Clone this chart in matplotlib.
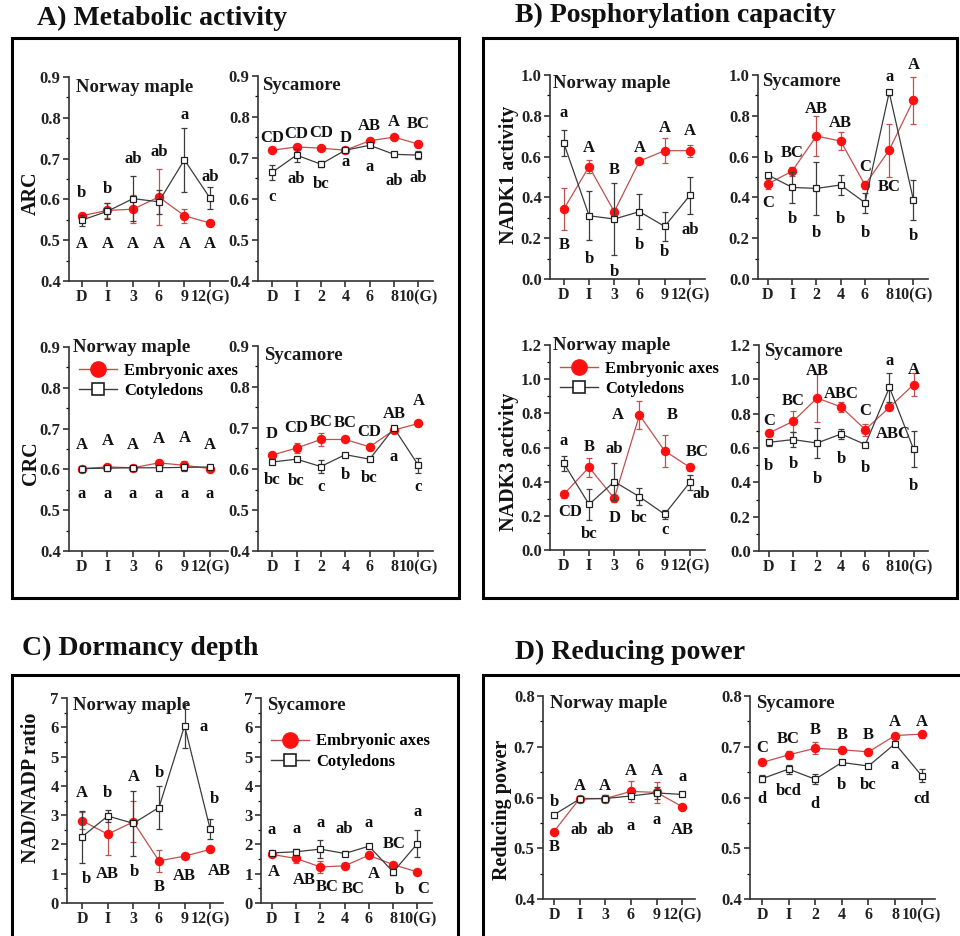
import matplotlib
matplotlib.use('Agg')
import matplotlib.pyplot as plt
from matplotlib.patches import Rectangle
from matplotlib.lines import Line2D
import numpy as np

# sampling points: dormant, imbibed, then weeks of stratification up to germination
days_nm = ['D', 'I', '3', '6', '9', '12(G)']
days_syc = ['D', 'I', '2', '4', '6', '8', '10(G)']

# ---- ARC ----
arc_nm_emb = [0.560, 0.573, 0.576, 0.606, 0.560, 0.542]
arc_nm_emb_err = [0.005, 0.018, 0.034, 0.068, 0.017, 0.004]
arc_nm_cot = [0.549, 0.571, 0.602, 0.594, 0.697, 0.603]
arc_nm_cot_err = [0.013, 0.020, 0.055, 0.030, 0.078, 0.027]
arc_nm_emb_let = ['A', 'A', 'A', 'A', 'A', 'A']
arc_nm_cot_let = ['b', 'b', 'ab', 'ab', 'a', 'ab']

arc_syc_emb = [0.719, 0.727, 0.724, 0.719, 0.742, 0.751, 0.734]
arc_syc_emb_err = [0.003, 0.004, 0.003, 0.004, 0.005, 0.004, 0.006]
arc_syc_cot = [0.665, 0.707, 0.685, 0.719, 0.731, 0.709, 0.707]
arc_syc_cot_err = [0.018, 0.016, 0.007, 0.004, 0.004, 0.006, 0.010]
arc_syc_emb_let = ['CD', 'CD', 'CD', 'D', 'AB', 'A', 'BC']
arc_syc_cot_let = ['c', 'ab', 'bc', 'a', 'a', 'ab', 'ab']

# ---- CRC ----
crc_nm_emb = [0.602, 0.606, 0.604, 0.616, 0.610, 0.602]
crc_nm_emb_err = [0.003, 0.003, 0.003, 0.008, 0.010, 0.003]
crc_nm_cot = [0.602, 0.603, 0.604, 0.604, 0.605, 0.606]
crc_nm_cot_err = [0.003, 0.003, 0.003, 0.003, 0.008, 0.003]
crc_nm_emb_let = ['A', 'A', 'A', 'A', 'A', 'A']
crc_nm_cot_let = ['a', 'a', 'a', 'a', 'a', 'a']

crc_syc_emb = [0.634, 0.651, 0.672, 0.672, 0.654, 0.695, 0.711]
crc_syc_emb_err = [0.004, 0.012, 0.016, 0.004, 0.008, 0.004, 0.006]
crc_syc_cot = [0.617, 0.624, 0.606, 0.635, 0.624, 0.700, 0.609]
crc_syc_cot_err = [0.003, 0.004, 0.015, 0.003, 0.003, 0.004, 0.018]
crc_syc_emb_let = ['D', 'CD', 'BC', 'BC', 'CD', 'AB', 'A']
crc_syc_cot_let = ['bc', 'bc', 'c', 'b', 'bc', 'a', 'c']

# ---- NADK1 ----
nadk1_nm_emb = [0.343, 0.551, 0.330, 0.578, 0.629, 0.629]
nadk1_nm_emb_err = [0.105, 0.030, 0.020, 0.010, 0.062, 0.030]
nadk1_nm_cot = [0.665, 0.310, 0.294, 0.330, 0.258, 0.410]
nadk1_nm_cot_err = [0.063, 0.120, 0.178, 0.085, 0.072, 0.090]
nadk1_nm_emb_let = ['B', 'A', 'B', 'A', 'A', 'A']
nadk1_nm_cot_let = ['a', 'b', 'b', 'b', 'b', 'ab']

nadk1_syc_emb = [0.466, 0.529, 0.701, 0.676, 0.461, 0.632, 0.877]
nadk1_syc_emb_err = [0.025, 0.022, 0.100, 0.045, 0.020, 0.130, 0.115]
nadk1_syc_cot = [0.510, 0.449, 0.444, 0.461, 0.374, 0.915, 0.387]
nadk1_syc_cot_err = [0.008, 0.075, 0.130, 0.050, 0.050, 0.012, 0.097]
nadk1_syc_emb_let = ['C', 'BC', 'AB', 'AB', 'C', 'BC', 'A']
nadk1_syc_cot_let = ['b', 'b', 'b', 'b', 'b', 'a', 'b']

# ---- NADK3 ----
nadk3_nm_emb = [0.326, 0.484, 0.302, 0.790, 0.580, 0.484]
nadk3_nm_emb_err = [0.020, 0.055, 0.020, 0.080, 0.095, 0.020]
nadk3_nm_cot = [0.507, 0.267, 0.400, 0.312, 0.209, 0.396]
nadk3_nm_cot_err = [0.045, 0.090, 0.110, 0.050, 0.025, 0.045]
nadk3_nm_emb_let = ['CD', 'B', 'D', 'A', 'B', 'BC']
nadk3_nm_cot_let = ['a', 'bc', 'ab', 'bc', 'c', 'ab']

nadk3_syc_emb = [0.687, 0.755, 0.891, 0.839, 0.707, 0.837, 0.969]
nadk3_syc_emb_err = [0.015, 0.060, 0.140, 0.030, 0.035, 0.015, 0.065]
nadk3_syc_cot = [0.633, 0.649, 0.629, 0.682, 0.620, 0.953, 0.594]
nadk3_syc_cot_err = [0.020, 0.045, 0.090, 0.030, 0.015, 0.085, 0.105]
nadk3_syc_emb_let = ['C', 'BC', 'AB', 'ABC', 'C', 'ABC', 'A']
nadk3_syc_cot_let = ['b', 'b', 'b', 'b', 'b', 'a', 'b']

# ---- NAD/NADP ----
ratio_nm_emb = [2.81, 2.35, 2.77, 1.44, 1.60, 1.83]
ratio_nm_emb_err = [0.30, 0.70, 0.70, 0.38, 0.05, 0.05]
ratio_nm_cot = [2.26, 2.97, 2.72, 3.26, 6.05, 2.52]
ratio_nm_cot_err = [0.88, 0.20, 1.10, 0.75, 0.77, 0.35]
ratio_nm_emb_let = ['A', 'AB', 'A', 'B', 'AB', 'AB']
ratio_nm_cot_let = ['b', 'b', 'b', 'b', 'a', 'b']

ratio_syc_emb = [1.66, 1.52, 1.23, 1.27, 1.63, 1.31, 1.06]
ratio_syc_emb_err = [0.05, 0.15, 0.20, 0.05, 0.10, 0.05, 0.05]
ratio_syc_cot = [1.71, 1.75, 1.84, 1.69, 1.94, 1.06, 2.03]
ratio_syc_cot_err = [0.05, 0.10, 0.30, 0.10, 0.07, 0.10, 0.45]
ratio_syc_emb_let = ['A', 'AB', 'BC', 'BC', 'A', 'BC', 'C']
ratio_syc_cot_let = ['a', 'a', 'a', 'ab', 'a', 'b', 'a']

# ---- reducing power ----
rp_nm_emb = [0.533, 0.598, 0.598, 0.612, 0.610, 0.582]
rp_nm_emb_err = [0.004, 0.003, 0.007, 0.020, 0.020, 0.003]
rp_nm_cot = [0.566, 0.597, 0.598, 0.603, 0.609, 0.606]
rp_nm_cot_err = [0.003, 0.003, 0.007, 0.003, 0.012, 0.003]
rp_nm_emb_let = ['B', 'A', 'A', 'A', 'A', 'AB']
rp_nm_cot_let = ['b', 'ab', 'ab', 'a', 'a', 'a']

rp_syc_emb = [0.669, 0.684, 0.697, 0.694, 0.690, 0.722, 0.725]
rp_syc_emb_err = [0.003, 0.008, 0.012, 0.003, 0.003, 0.003, 0.007]
rp_syc_cot = [0.637, 0.656, 0.636, 0.669, 0.662, 0.706, 0.643]
rp_syc_cot_err = [0.007, 0.009, 0.010, 0.003, 0.003, 0.003, 0.013]
rp_syc_emb_let = ['C', 'BC', 'B', 'B', 'B', 'A', 'A']
rp_syc_cot_let = ['d', 'bcd', 'd', 'b', 'bc', 'a', 'cd']

# where each significance letter sits (y in data units, optional x shift)
arc_nm_emb_ly = [0.491] * 6
arc_nm_cot_ly = [0.615, 0.625, 0.698, 0.716, 0.806, 0.655]
arc_syc_emb_ly = [0.750, 0.758, 0.762, 0.750, 0.778, 0.788, 0.782]
arc_syc_cot_ly = [0.605, 0.648, 0.636, 0.691, 0.678, 0.644, 0.652]
crc_nm_emb_ly = [0.659, 0.670, 0.659, 0.675, 0.678, 0.659]
crc_nm_cot_ly = [0.539] * 6
crc_syc_emb_ly = [0.685, 0.699, 0.715, 0.713, 0.691, 0.735, 0.766]
crc_syc_cot_ly = [0.574, 0.571, 0.556, 0.585, 0.577, 0.630, 0.556]
nadk1_nm_emb_ly = [0.167, 0.640, 0.534, 0.640, 0.739, 0.727]
nadk1_nm_cot_ly = [0.812, 0.100, 0.036, 0.167, 0.134, 0.240]
nadk1_syc_emb_ly = [0.374, 0.616, 0.833, 0.766, 0.547, 0.449, 1.049]
nadk1_syc_cot_ly = [0.588, 0.292, 0.227, 0.292, 0.227, 0.992, 0.211]
nadk3_nm_emb_ly = [0.224, 0.601, 0.185, 0.790, 0.790, 0.576]
nadk3_nm_emb_lx = [0.25, 0, 0, -0.85, 0.3, 0.3]
nadk3_nm_cot_ly = [0.638, 0.094, 0.591, 0.185, 0.117, 0.328]
nadk3_nm_cot_lx = [0, 0, 0, 0, 0, 0.45]
nadk3_syc_emb_ly = [0.760, 0.872, 1.050, 0.915, 0.814, 0.683, 1.056]
nadk3_syc_emb_lx = [0, 0, 0, 0, 0, 0.15, 0]
nadk3_syc_cot_ly = [0.497, 0.509, 0.419, 0.536, 0.484, 1.109, 0.381]
ratio_nm_emb_ly = [3.74, 1.00, 4.30, 0.53, 0.91, 1.10]
ratio_nm_emb_lx = [0, 0, 0, 0, 0, 0.35]
ratio_nm_cot_ly = [0.83, 3.77, 1.06, 4.43, 6.00, 3.54]
ratio_nm_cot_lx = [0.15, 0, 0.05, 0, 0.75, 0.15]
ratio_syc_emb_ly = [1.06, 0.80, 0.55, 0.49, 1.00, 2.03, 0.49]
ratio_syc_emb_lx = [0.1, 0.35, 0.3, 0.35, 0.2, 0.05, 0.25]
ratio_syc_cot_ly = [2.49, 2.51, 2.74, 2.51, 2.74, 0.46, 3.12]
ratio_syc_cot_lx = [0, 0, 0, 0, 0, 0.25, 0]
rp_nm_emb_ly = [0.502, 0.623, 0.623, 0.653, 0.653, 0.535]
rp_nm_cot_ly = [0.591, 0.536, 0.536, 0.543, 0.555, 0.640]
rp_syc_emb_ly = [0.697, 0.715, 0.733, 0.723, 0.723, 0.749, 0.749]
rp_syc_cot_ly = [0.597, 0.612, 0.588, 0.625, 0.625, 0.665, 0.597]

EMB_LINE = '#c0504d'
EMB_MARK = '#ff1010'
COT_LINE = '#3c3c3c'
FONT = 'Liberation Serif'

plt.rcParams['font.family'] = FONT
plt.rcParams['font.weight'] = 'bold'
plt.rcParams['axes.linewidth'] = 1.2

W, H = 960, 936
fig = plt.figure(figsize=(W / 100, H / 100), dpi=100)
fig.patch.set_facecolor('white')


def px_axes(left, right, top, bottom):
    return fig.add_axes([left / W, 1 - bottom / H, (right - left) / W, (bottom - top) / H])


def draw_panel(box, ticks, emb, emb_err, cot, cot_err, ylim, ystep, yfmt, xlim, title, tpos):
    ax = px_axes(*box)
    x = np.arange(len(ticks))
    ax.errorbar(x, emb, yerr=emb_err, color=EMB_LINE, lw=0.9, marker='o', ms=5.8,
                mfc=EMB_MARK, mec=EMB_MARK, ecolor=EMB_LINE, elinewidth=0.9,
                capsize=2.5, capthick=0.9, zorder=3, clip_on=False)
    ax.errorbar(x, cot, yerr=cot_err, color=COT_LINE, lw=0.9, marker='s', ms=4.2,
                mfc='white', mec='#202020', mew=0.9, ecolor=COT_LINE, elinewidth=0.9,
                capsize=2.5, capthick=0.9, zorder=4, clip_on=False)
    ax.set_xlim(*xlim)
    ax.set_ylim(*ylim)
    ax.set_xticks(x)
    ax.set_xticklabels(ticks)
    yt = np.arange(ylim[0], ylim[1] + ystep / 2, ystep)
    ax.set_yticks(yt)
    ax.set_yticklabels([yfmt.format(v) for v in yt])
    ax.set_yticks(np.arange(ylim[0] + ystep / 2, ylim[1], ystep), minor=True)
    for s in ['top', 'right']:
        ax.spines[s].set_visible(False)
    for s in ['left', 'bottom']:
        ax.spines[s].set_color('#333333')
    ax.tick_params(axis='both', which='major', direction='out', length=4, width=1.1,
                   pad=2, colors='#222222')
    ax.tick_params(axis='y', which='major', labelsize=12)
    ax.tick_params(axis='x', which='major', labelsize=11.5)
    ax.tick_params(axis='y', which='minor', direction='out', length=2.5, width=0.9)
    ax.patch.set_alpha(0)
    ax.annotate(title, xy=(0, 1), xycoords='axes fraction', xytext=tpos,
                textcoords='offset pixels', ha='left', va='center',
                fontsize=13.5, fontweight='bold', color='#1a1a1a')
    return ax


def letters(ax, labs, ys, xs=None):
    if xs is None:
        xs = [0] * len(labs)
    for i, (lab, y, dx) in enumerate(zip(labs, ys, xs)):
        ax.text(i + dx, y, lab, ha='center', va='center', fontsize=12,
                fontweight='bold', color='#111111', clip_on=False)


def add_legend(ax, anchor):
    handles = [Line2D([], [], color=EMB_LINE, lw=1, marker='o', ms=11, mfc=EMB_MARK, mec=EMB_MARK),
               Line2D([], [], color=COT_LINE, lw=1, marker='s', ms=8, mfc='white', mec='#202020', mew=1.2)]
    ax.legend(handles, ['Embryonic axes', 'Cotyledons'], loc='upper left',
              bbox_to_anchor=anchor, frameon=False, fontsize=12, handlelength=2.3,
              handletextpad=0.4, labelspacing=0.25, borderaxespad=0)


# ---- A) metabolic activity ----
ax = draw_panel((69, 228, 77, 281), days_nm, arc_nm_emb, arc_nm_emb_err, arc_nm_cot, arc_nm_cot_err,
                (0.4, 0.9), 0.1, '{:.1f}', (-0.5, 5.7), 'Norway maple', (7, -10))
letters(ax, arc_nm_emb_let, arc_nm_emb_ly)
letters(ax, arc_nm_cot_let, arc_nm_cot_ly)

ax = draw_panel((258, 433, 76, 281), days_syc, arc_syc_emb, arc_syc_emb_err, arc_syc_cot, arc_syc_cot_err,
                (0.4, 0.9), 0.1, '{:.1f}', (-0.58, 6.6), 'Sycamore', (4, -9))
letters(ax, arc_syc_emb_let, arc_syc_emb_ly)
letters(ax, arc_syc_cot_let, arc_syc_cot_ly)

ax = draw_panel((69, 228, 347, 551), days_nm, crc_nm_emb, crc_nm_emb_err, crc_nm_cot, crc_nm_cot_err,
                (0.4, 0.9), 0.1, '{:.1f}', (-0.5, 5.7), 'Norway maple', (4, 0))
letters(ax, crc_nm_emb_let, crc_nm_emb_ly)
letters(ax, crc_nm_cot_let, crc_nm_cot_ly)
add_legend(ax, (0.02, 0.955))

ax = draw_panel((258, 433, 346, 551), days_syc, crc_syc_emb, crc_syc_emb_err, crc_syc_cot, crc_syc_cot_err,
                (0.4, 0.9), 0.1, '{:.1f}', (-0.58, 6.6), 'Sycamore', (6, -10))
letters(ax, crc_syc_emb_let, crc_syc_emb_ly)
letters(ax, crc_syc_cot_let, crc_syc_cot_ly)

# ---- B) phosphorylation capacity ----
ax = draw_panel((550, 705, 75, 279), days_nm, nadk1_nm_emb, nadk1_nm_emb_err, nadk1_nm_cot, nadk1_nm_cot_err,
                (0.0, 1.0), 0.2, '{:.1f}', (-0.55, 5.6), 'Norway maple', (3, -9))
letters(ax, nadk1_nm_emb_let, nadk1_nm_emb_ly)
letters(ax, nadk1_nm_cot_let, nadk1_nm_cot_ly)

ax = draw_panel((758, 928, 75, 279), days_syc, nadk1_syc_emb, nadk1_syc_emb_err, nadk1_syc_cot, nadk1_syc_cot_err,
                (0.0, 1.0), 0.2, '{:.1f}', (-0.41, 6.6), 'Sycamore', (4, -6))
letters(ax, nadk1_syc_emb_let, nadk1_syc_emb_ly)
letters(ax, nadk1_syc_cot_let, nadk1_syc_cot_ly)

ax = draw_panel((550, 705, 345, 550), days_nm, nadk3_nm_emb, nadk3_nm_emb_err, nadk3_nm_cot, nadk3_nm_cot_err,
                (0.0, 1.2), 0.2, '{:.1f}', (-0.55, 5.6), 'Norway maple', (3, 0))
letters(ax, nadk3_nm_emb_let, nadk3_nm_emb_ly, nadk3_nm_emb_lx)
letters(ax, nadk3_nm_cot_let, nadk3_nm_cot_ly, nadk3_nm_cot_lx)
add_legend(ax, (0.02, 0.955))

ax = draw_panel((759, 928, 345, 551), days_syc, nadk3_syc_emb, nadk3_syc_emb_err, nadk3_syc_cot, nadk3_syc_cot_err,
                (0.0, 1.2), 0.2, '{:.1f}', (-0.41, 6.6), 'Sycamore', (5, -6))
letters(ax, nadk3_syc_emb_let, nadk3_syc_emb_ly, nadk3_syc_emb_lx)
letters(ax, nadk3_syc_cot_let, nadk3_syc_cot_ly)

# ---- C) dormancy depth ----
ax = draw_panel((67, 223, 698, 903), days_nm, ratio_nm_emb, ratio_nm_emb_err, ratio_nm_cot, ratio_nm_cot_err,
                (0, 7), 1, '{:.0f}', (-0.59, 5.5), 'Norway maple', (6, -7))
letters(ax, ratio_nm_emb_let, ratio_nm_emb_ly, ratio_nm_emb_lx)
letters(ax, ratio_nm_cot_let, ratio_nm_cot_ly, ratio_nm_cot_lx)

ax = draw_panel((261, 432, 698, 903), days_syc, ratio_syc_emb, ratio_syc_emb_err, ratio_syc_cot, ratio_syc_cot_err,
                (0, 7), 1, '{:.0f}', (-0.45, 6.6), 'Sycamore', (6, -7))
letters(ax, ratio_syc_emb_let, ratio_syc_emb_ly, ratio_syc_emb_lx)
letters(ax, ratio_syc_cot_let, ratio_syc_cot_ly, ratio_syc_cot_lx)
add_legend(ax, (0.02, 0.86))

# ---- D) reducing power ----
ax = draw_panel((543, 695, 696, 899), days_nm, rp_nm_emb, rp_nm_emb_err, rp_nm_cot, rp_nm_cot_err,
                (0.4, 0.8), 0.1, '{:.1f}', (-0.43, 5.5), 'Norway maple', (7, -8))
letters(ax, rp_nm_emb_let, rp_nm_emb_ly)
letters(ax, rp_nm_cot_let, rp_nm_cot_ly)

ax = draw_panel((750, 935, 696, 899), days_syc, rp_syc_emb, rp_syc_emb_err, rp_syc_cot, rp_syc_cot_err,
                (0.4, 0.8), 0.1, '{:.1f}', (-0.45, 6.5), 'Sycamore', (6, -7))
letters(ax, rp_syc_emb_let, rp_syc_emb_ly)
letters(ax, rp_syc_cot_let, rp_syc_cot_ly)

# y-axis labels, placed in figure pixels
for txt, (x, y) in [('ARC', (31, 193)), ('CRC', (31, 463)),
                    ('NADK1 activity', (509, 175)), ('NADK3 activity', (509, 462)),
                    ('NAD/NADP ratio', (31, 788)), ('Reducing power', (502, 810))]:
    fig.text(x / W, 1 - y / H, txt, rotation=90, ha='center', va='center',
             fontsize=14.5, fontweight='bold', color='#111111')

# section headings
for txt, (x, y) in [('A) Metabolic activity', (37, 18)), ('B) Posphorylation capacity', (515, 15)),
                    ('C) Dormancy depth', (22, 648)), ('D) Reducing power', (515, 652))]:
    fig.text(x / W, 1 - y / H, txt, ha='left', va='center', fontsize=20, fontweight='bold', color='#111111')

# black frames around each group
for (l, t, r, b) in [(12, 38, 459, 598), (483, 38, 957, 598), (12, 675, 458, 960), (483, 675, 975, 960)]:
    fig.patches.append(Rectangle((l / W, 1 - b / H), (r - l) / W, (b - t) / H, transform=fig.transFigure,
                                 fill=False, lw=2.2, ec='black', zorder=0))

fig.savefig('out.png', dpi=100)
